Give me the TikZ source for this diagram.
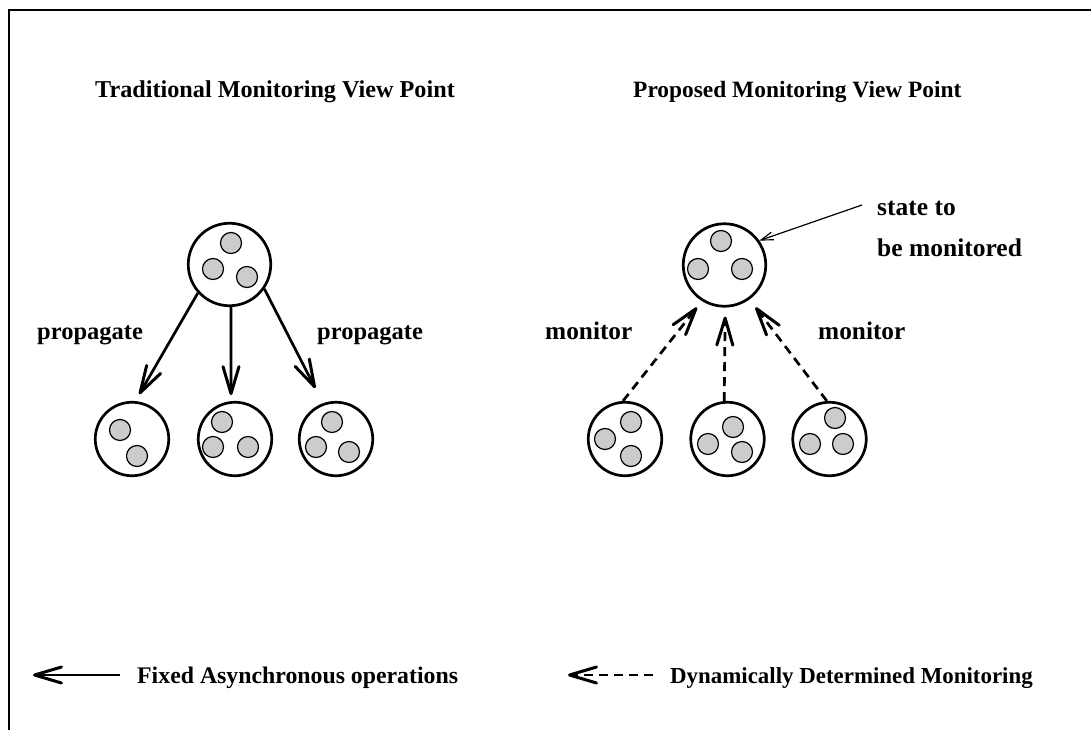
\documentclass[tikz,border=0pt]{standalone}
\usepackage{fontspec}
\setmainfont{Liberation Serif}
\usetikzlibrary{arrows.meta}
\begin{document}
\begin{tikzpicture}[x=1pt,y=-1pt,
  lbl/.style={font=\fontsize{#1}{#1}\selectfont\bfseries, inner sep=0pt, anchor=base west},
  lbl/.default=24,
  big/.style={circle, draw, line width=2.7pt, minimum size=73.5pt, inner sep=0pt},
  bigtop/.style={big, minimum size=82.5pt},
  dot/.style={circle, draw, line width=1.2pt, fill=black!20, minimum size=21pt, inner sep=0pt},
  solidarr/.style={line width=2.7pt, -{Straight Barb[length=27pt,width=16pt,line width=3pt,round]}},
  dasharr/.style={solidarr, dash pattern=on 9pt off 6pt},
  thinarr/.style={line width=1.2pt, -{Straight Barb[length=12pt,width=8pt,line width=1.2pt]}},
  frame/.style={line width=2pt}
]
\useasboundingbox (0,0) rectangle (1091,730);
\draw[frame] (9,730) -- (9,10) -- (1091,10);

% titles
\node[lbl=24.2] (t1) at (95,98) {Traditional Monitoring View Point};
\node[lbl=23.4] (t2) at (633,98) {Proposed Monitoring View Point};

% left group
\node[bigtop] (tl) at (229.5,264.5) {};
\node[dot] (tld1) at (231,243) {};
\node[dot] (tld2) at (213,269) {};
\node[dot] (tld3) at (247,277) {};

\node[big] (bl1) at (132,439) {};
\node[dot] (bl1d1) at (120,430) {};
\node[dot] (bl1d2) at (137,456) {};

\node[big] (bl2) at (235,439) {};
\node[dot] (bl2d1) at (222,422) {};
\node[dot] (bl2d2) at (213,447) {};
\node[dot] (bl2d3) at (248,447) {};

\node[big] (bl3) at (336,439) {};
\node[dot] (bl3d1) at (332,422) {};
\node[dot] (bl3d2) at (316,447) {};
\node[dot] (bl3d3) at (349,452) {};

\draw[solidarr, shorten >=8pt] (tl.222) -- (bl1.85);
\draw[solidarr, shorten >=6pt] (tl.272) -- (bl2.96);
\draw[solidarr, shorten >=17pt] (tl.-35) -- (bl3.110);

\node[lbl=24.5] (p1) at (37,339) {propagate};
\node[lbl=24.5] (p2) at (317,339) {propagate};

% right group
\node[bigtop] (tr) at (724.5,265) {};
\node[dot] (trd1) at (721,241) {};
\node[dot] (trd2) at (698,269) {};
\node[dot] (trd3) at (742,269) {};

\node[big] (br1) at (625,439) {};
\node[dot] (br1d1) at (631,422) {};
\node[dot] (br1d2) at (605,439) {};
\node[dot] (br1d3) at (631,456) {};

\node[big] (br2) at (727.5,439) {};
\node[dot] (br2d1) at (733,427) {};
\node[dot] (br2d2) at (708,444) {};
\node[dot] (br2d3) at (742,452) {};

\node[big] (br3) at (829.5,439) {};
\node[dot] (br3d1) at (835,418) {};
\node[dot] (br3d2) at (810,444) {};
\node[dot] (br3d3) at (843,444) {};

\draw[dasharr, shorten >=8pt] (br1.93) -- (tr.238);
\draw[dasharr, shorten >=9pt] (br2.95) -- (tr.271);
\draw[dasharr, shorten >=10pt] (br3.94) -- (tr.306);

\node[lbl=25.3] (m1) at (545,339) {monitor};
\node[lbl=25.3] (m2) at (818,339) {monitor};

\node[lbl=25.5] (s1) at (877,215.5) {state to};
\node[lbl=25.5] (s2) at (877,256) {be monitored};
\coordinate (st) at (862,205);
\draw[thinarr] (st) -- (tr.35);

% legend
\coordinate (la1) at (120,675);
\coordinate (la2) at (33,675);
\draw[solidarr] (la1) -- (la2);
\node[lbl=23.8] (lg1) at (137,683) {Fixed Asynchronous operations};

\coordinate (lb1) at (653,675);
\coordinate (lb2) at (568,675);
\draw[dasharr] (lb1) -- (lb2);
\node[lbl=22.9] (lg2) at (670,683) {Dynamically Determined Monitoring};
\end{tikzpicture}
\end{document}
